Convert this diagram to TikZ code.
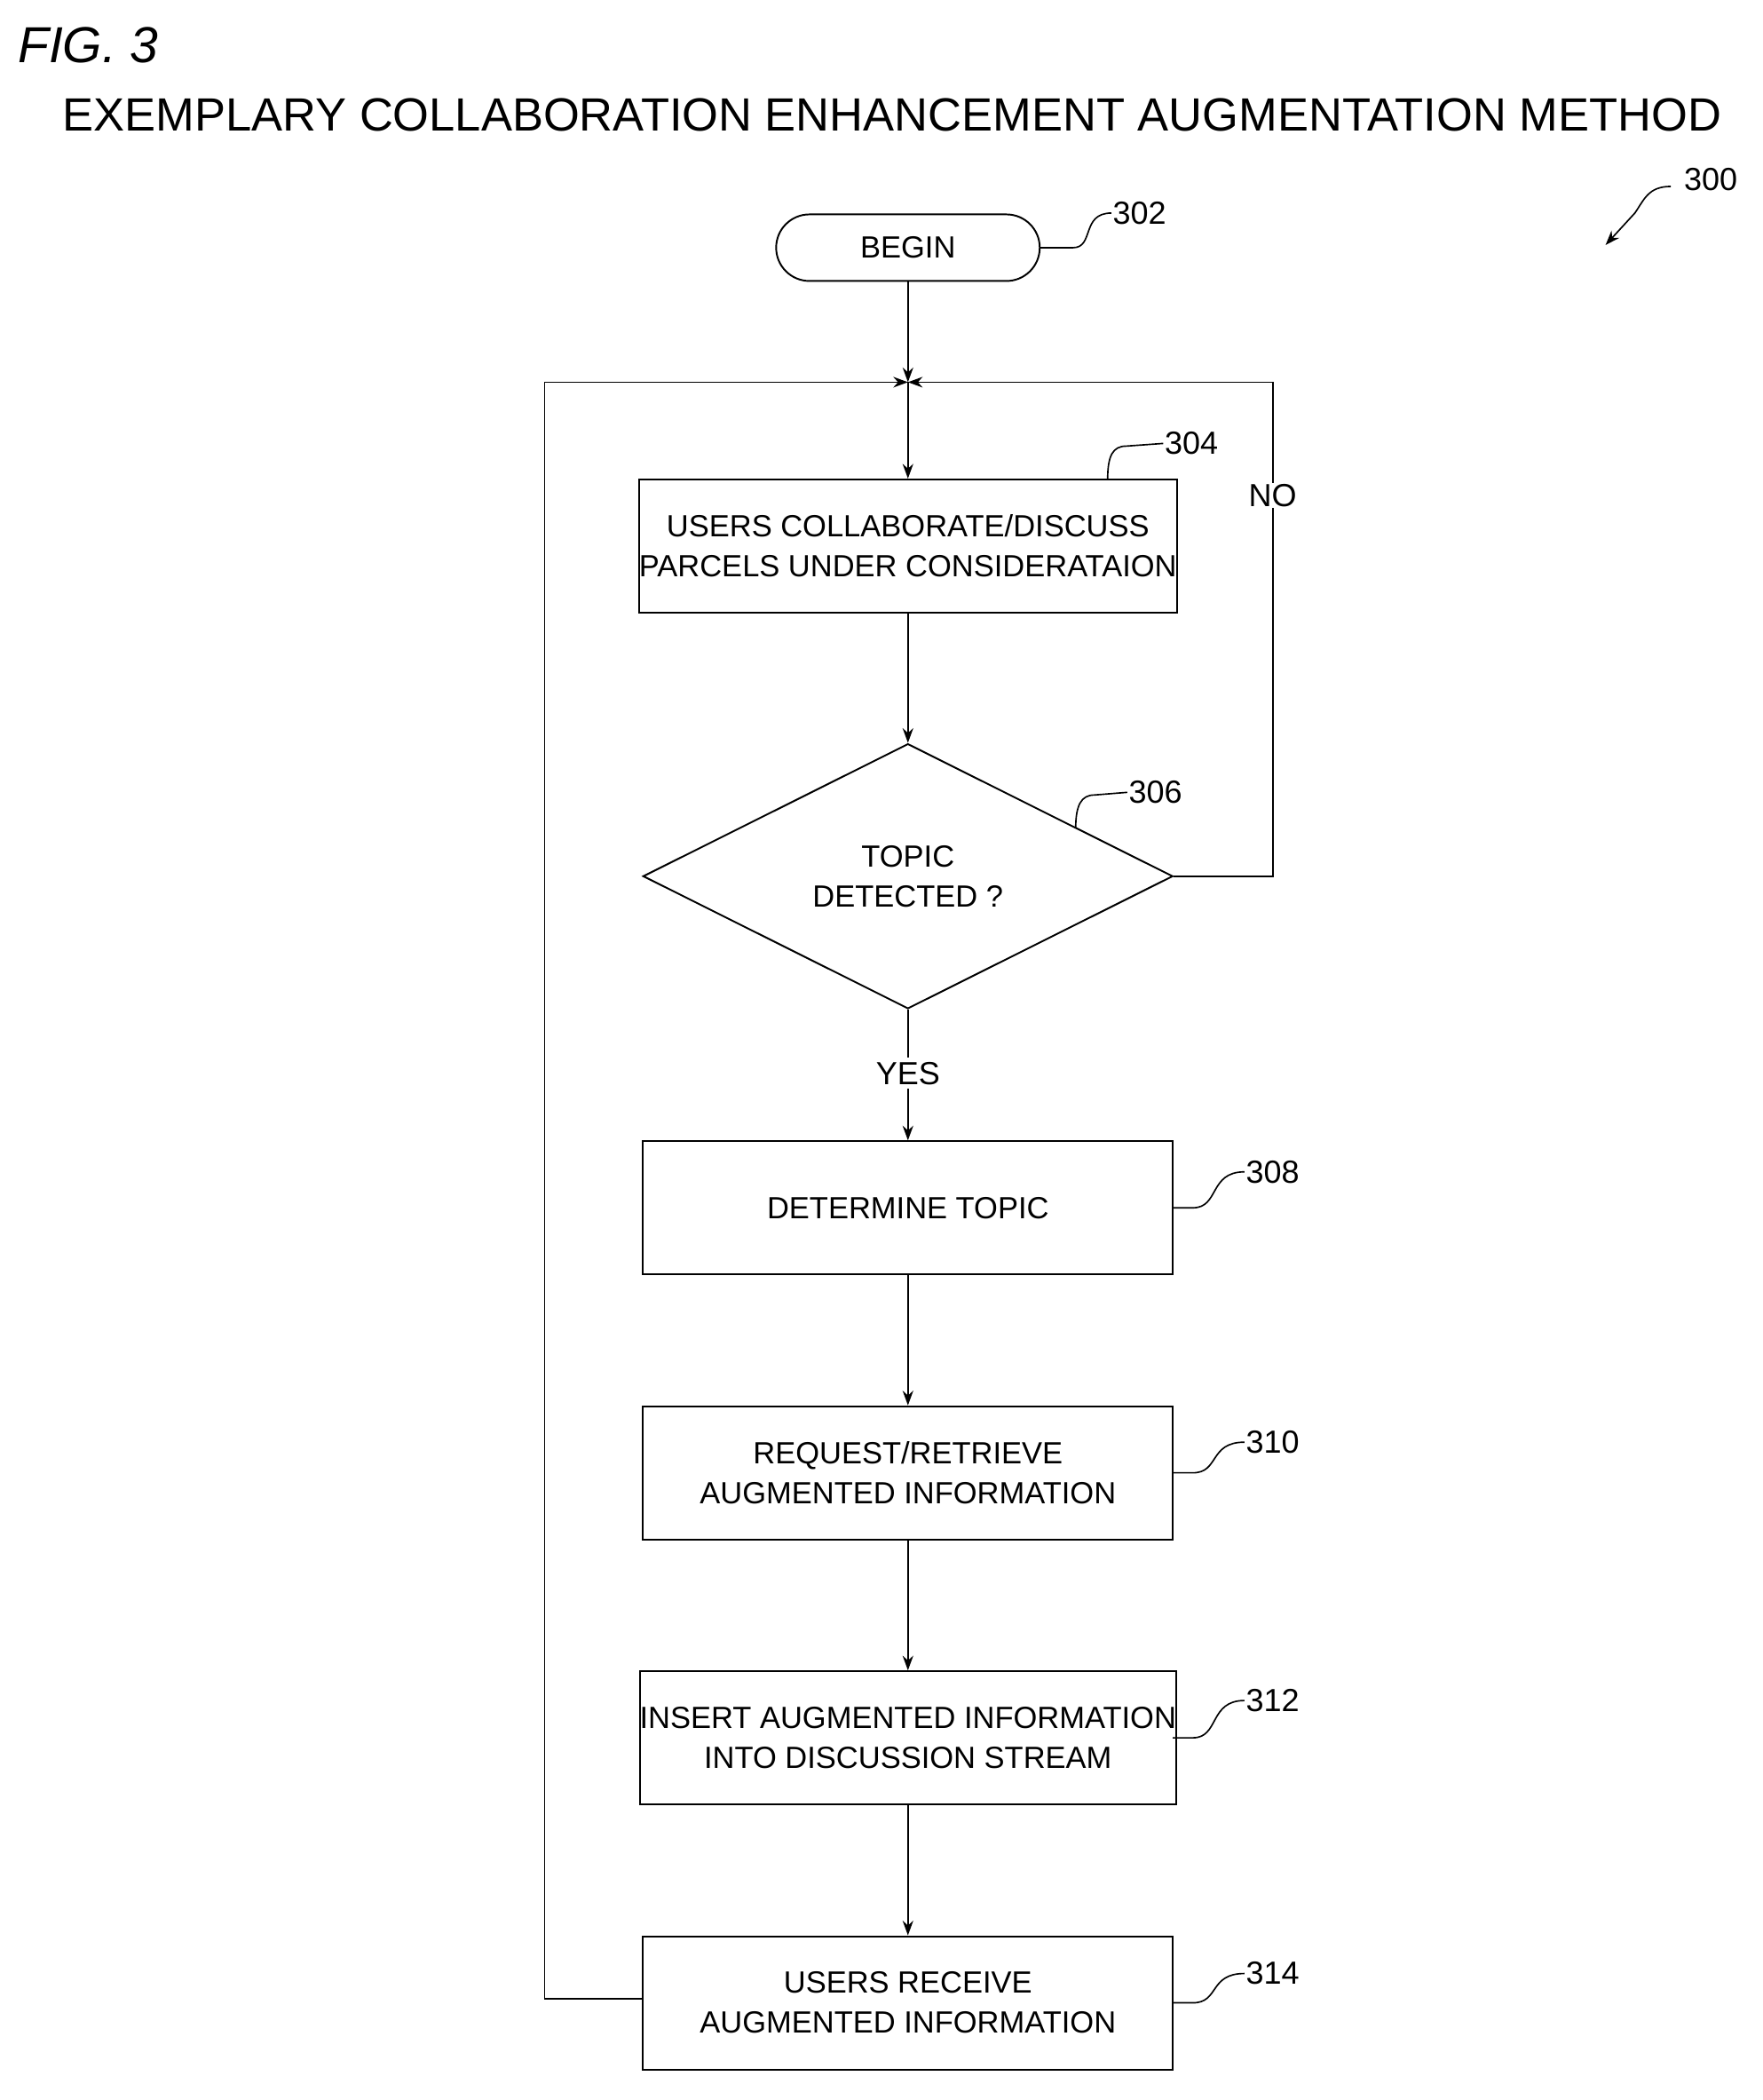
\documentclass[tikz,border=0pt]{standalone}
\usepackage{fontspec}
\setmainfont{Liberation Sans}
\usetikzlibrary{shapes.geometric,arrows.meta}
\begin{document}
\begin{tikzpicture}[x=1pt,y=-1pt,
  box/.style={draw,line width=1.3pt,minimum width=398pt,minimum height=100pt,align=center,font=\fontsize{23}{30}\selectfont,inner sep=0pt},
  lbl/.style={font=\fontsize{24}{28}\selectfont,inner sep=1pt},
  ln/.style={line width=1.1pt},
  arr/.style={ln,-{Stealth[length=11pt,width=8pt]}}]
\useasboundingbox (0,0) rectangle (1324,1577);
\node[font=\itshape\fontsize{38}{40}\selectfont,anchor=west] (fig) at (10,34) {FIG. 3};
\node[font=\fontsize{35}{40}\selectfont] (title) at (670,86) {EXEMPLARY COLLABORATION ENHANCEMENT AUGMENTATION METHOD};
\node[lbl] (l300) at (1285,135) {300};
\coordinate (a300) at (1255,140);
\coordinate (t300) at (1206,184);
\draw[arr] (a300) .. controls (1238,140) and (1235,150) .. (1228,160) -- (t300);

\node[draw,line width=1.3pt,rounded corners=25pt,minimum width=198pt,minimum height=50pt,font=\fontsize{23}{30}\selectfont] (begin) at (682,186) {BEGIN};
\node[lbl] (l302) at (856,160) {302};
\draw[ln] (begin.east) -- (806,186) .. controls (822,186) and (812,160) .. (l302.west);

\coordinate (j) at (682,287);
\node[box] (b304) at (682,410) {USERS COLLABORATE/DISCUSS\\PARCELS UNDER CONSIDERATAION};
\node[diamond,draw,line width=1.3pt,minimum width=398pt,minimum height=199pt,inner sep=0pt,aspect=2,align=center,font=\fontsize{23}{30}\selectfont] (d306) at (682,658) {TOPIC\\DETECTED ?};
\node[box] (b308) at (682,907) {DETERMINE TOPIC};
\node[box] (b310) at (682,1106) {REQUEST/RETRIEVE\\AUGMENTED INFORMATION};
\node[box] (b312) at (682,1305) {INSERT AUGMENTED INFORMATION\\INTO DISCUSSION STREAM};
\node[box] (b314) at (682,1504) {USERS RECEIVE\\AUGMENTED INFORMATION};

\draw[arr] (begin.south) -- (j);
\draw[arr] (j) -- (b304.north);
\draw[arr] (b304.south) -- (d306.north);
\node[lbl,fill=white,inner sep=3pt] (yes) at (682,806) {YES};
\draw[ln] (d306.south) -- (yes.north);
\draw[arr] (yes.south) -- (b308.north);
\draw[arr] (b308.south) -- (b310.north);
\draw[arr] (b310.south) -- (b312.north);
\draw[arr] (b312.south) -- (b314.north);
\coordinate (nr) at (956,658);
\coordinate (nt) at (956,287);
\coordinate (ll) at (409,1501);
\coordinate (lt) at (409,287);
\draw[arr] (d306.east) -- (nr) -- (nt) -- (j);
\draw[arr] (b314.west |- ll) -- (ll) -- (lt) -- (j);
\node[lbl,fill=white] (no) at (956,372) {NO};

\node[lbl] (l304) at (895,333) {304};
\draw[ln] (832,360) .. controls (832,342) and (836,335) .. (846,335) -- (l304.west);
\node[lbl] (l306) at (868,595) {306};
\draw[ln] (808,622) .. controls (808,605) and (812,597) .. (822,597) -- (l306.west);
\foreach \n/\y/\ly in {308/907/880,310/1106/1083,312/1305/1277,314/1504/1482}{
  \node[lbl] (l\n) at (956,\ly) {\n};
  \draw[ln] (881,\y) -- (896,\y) .. controls (916,\y) and (908,\ly) .. (l\n.west);
}
\end{tikzpicture}
\end{document}
